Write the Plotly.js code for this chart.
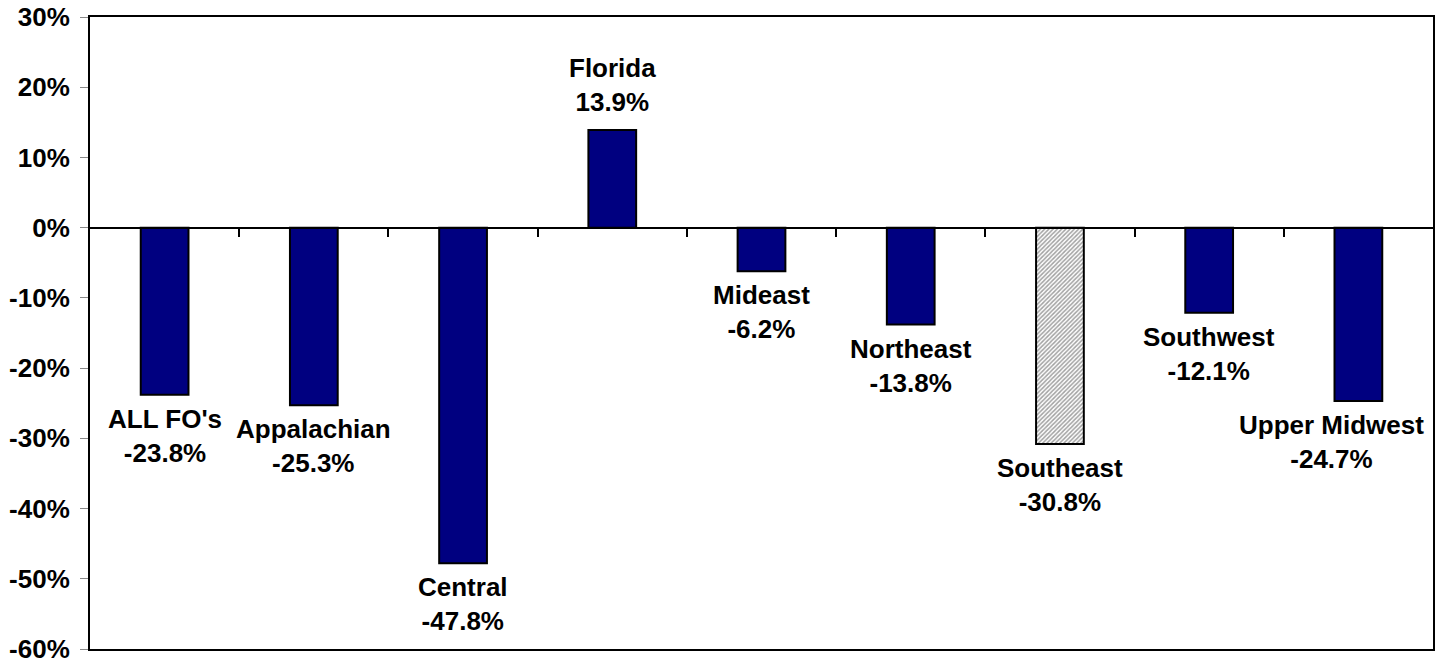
<!DOCTYPE html>
<html><head><meta charset="utf-8">
<script src="https://cdn.plot.ly/plotly-3.0.1.min.js"></script>
<style>html,body{margin:0;padding:0;background:#fff}#chart{width:1442px;height:658px}</style>
</head><body><div id="chart"></div>
<script>
const categories = ["ALL FO's","Appalachian","Central","Florida","Mideast","Northeast","Southeast","Southwest","Upper Midwest"];
const values = [-23.8,-25.3,-47.8,13.9,-6.2,-13.8,-30.8,-12.1,-24.7];
const yTicks = [-60,-50,-40,-30,-20,-10,0,10,20,30];

const idx = categories.map((c,i)=>i);
const colors = categories.map(c => c === 'Southeast' ? '#ffffff' : '#000080');
const shapes = categories.map(c => c === 'Southeast' ? '/' : '');
const font = {family:'Arial, "Liberation Sans", sans-serif', size:26, color:'#000', weight:'bold'};

const trace = {
  type:'bar', x: idx, y: values, width: 0.32,
  marker:{color: colors, line:{color:'#000', width:2},
    pattern:{shape: shapes, size:3, solidity:0.5, fgcolor:'#333', bgcolor:'#fff', fillmode:'overlay'}},
  hoverinfo:'none', cliponaxis:false
};
const dummy = {type:'scatter', x:[0], y:[0], xaxis:'x2', mode:'markers', marker:{opacity:0}, hoverinfo:'none', showlegend:false};

const annotations = categories.map((c,i)=>({
  x: i, y: values[i], xref:'x', yref:'y',
  text: c + '<br>' + values[i].toFixed(1) + '%',
  showarrow:false, font: font, align:'center',
  yanchor: values[i] >= 0 ? 'bottom' : 'top',
  yshift: values[i] >= 0 ? 11 : -7,
  xshift: i === categories.length - 1 ? -27 : 0
}));

Plotly.newPlot('chart', [trace, dummy], {
  width:1442, height:658, showlegend:false,
  margin:{l:90, r:9, t:17, b:9},
  paper_bgcolor:'#fff', plot_bgcolor:'#fff',
  annotations: annotations,
  xaxis:{range:[-0.5, categories.length-0.5], showline:true, linecolor:'#000', linewidth:2, mirror:true,
    showticklabels:false, ticks:'', showgrid:false, zeroline:false, fixedrange:true},
  xaxis2:{overlaying:'x', anchor:'free', position: 0.6667, range:[-0.5, categories.length-0.5],
    showline:true, linecolor:'#000', linewidth:2, ticks:'outside', ticklen:8, tickwidth:2, tickcolor:'#000',
    tickvals: idx.slice(0,-1).map(i=>i+0.5), showticklabels:false, showgrid:false, zeroline:false},
  yaxis:{range:[-60,30], tickvals:yTicks, ticktext:yTicks.map(v=>v+'%'), ticks:'outside', ticklen:8,
    tickwidth:1, tickcolor:'#888', showline:true, linecolor:'#000', linewidth:2, mirror:true,
    showgrid:false, zeroline:false, tickfont:font, ticklabeloverflow:'allow', automargin:false,
    ticklabelstandoff:5},
  bargap:0.68
}, {staticPlot:true});
</script></body></html>
